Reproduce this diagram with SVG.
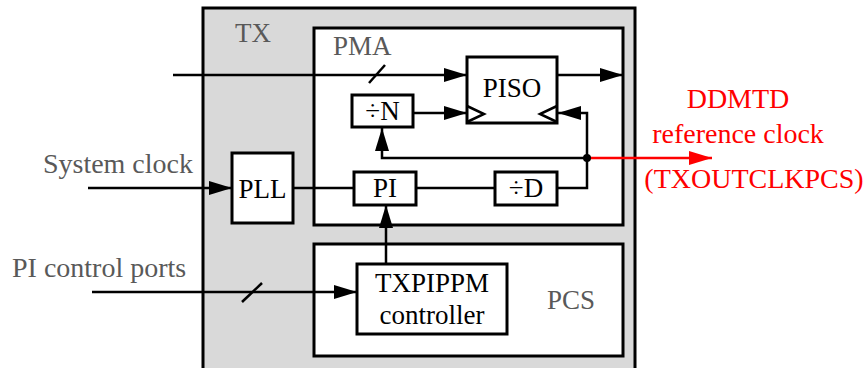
<svg xmlns="http://www.w3.org/2000/svg" width="868" height="368" viewBox="0 0 868 368">
<style>
.t{font-family:"Liberation Serif",serif;font-size:27px}
.big{font-size:28px}
.g{fill:#595959}
.k{fill:#000}
.r{fill:#ff0000}
.box{fill:#fff;stroke:#000;stroke-width:3}
.ln{fill:none;stroke:#000;stroke-width:2.5}
.red{fill:none;stroke:#ff0000;stroke-width:2.5}
</style>
<defs>
<marker id="a" markerUnits="userSpaceOnUse" markerWidth="24" markerHeight="16" refX="23" refY="7" orient="auto">
<path d="M0,0 L23,7 L0,14 Z" fill="#000"/>
</marker>
<marker id="ar" markerUnits="userSpaceOnUse" markerWidth="24" markerHeight="16" refX="23" refY="7" orient="auto">
<path d="M0,0 L23,7 L0,14 Z" fill="#ff0000"/>
</marker>
</defs>
<g id="TX">
<rect x="203" y="8" width="432" height="380" fill="#d9d9d9" stroke="#000" stroke-width="3"/>
<text class="t g" x="235" y="42">TX</text>
</g>
<g id="PMA">
<rect class="box" x="314" y="28" width="309" height="197"/>
<text class="t g" x="333" y="55">PMA</text>
</g>
<g id="PCS">
<rect class="box" x="314" y="244" width="309" height="112"/>
<text class="t g" x="571" y="309" text-anchor="middle">PCS</text>
</g>
<g id="PISO">
<rect class="box" x="467" y="57" width="90" height="66"/>
<path class="ln" d="M467,106 L484,114 L467,122 M557,106 L540,114 L557,122"/>
<text class="t k" x="512" y="97" text-anchor="middle">PISO</text>
</g>
<g id="divN">
<rect class="box" x="352" y="95" width="61" height="32"/>
<text class="t k" x="382.5" y="120" text-anchor="middle">÷N</text>
</g>
<g id="PI">
<rect class="box" x="354" y="172" width="62" height="33"/>
<text class="t k" x="385" y="197" text-anchor="middle">PI</text>
</g>
<g id="divD">
<rect class="box" x="495" y="172" width="62" height="33"/>
<text class="t k" x="526" y="197" text-anchor="middle">÷D</text>
</g>
<g id="PLL">
<rect class="box" x="232" y="153" width="61" height="70"/>
<text class="t k" x="262.5" y="198" text-anchor="middle">PLL</text>
</g>
<g id="TXPIPPM">
<rect class="box" x="357" y="264" width="150" height="70"/>
<text class="t k" x="432" y="292" text-anchor="middle">TXPIPPM</text>
<text class="t k" x="432" y="324" text-anchor="middle">controller</text>
</g>
<g id="labels">
<text class="t big g" x="193" y="173" text-anchor="end">System clock</text>
<text class="t big g" x="12" y="277">PI control ports</text>
<text class="t big r" x="738" y="108" text-anchor="middle">DDMTD</text>
<text class="t big r" x="738" y="143" text-anchor="middle">reference clock</text>
<text class="t big r" x="754" y="188" text-anchor="middle">(TXOUTCLKPCS)</text>
</g>
<g id="connectors">
<line class="ln" x1="173" y1="75" x2="467" y2="75" marker-end="url(#a)"/>
<line class="ln" x1="369" y1="83" x2="385" y2="65"/>
<line class="ln" x1="557" y1="75" x2="623" y2="75" marker-end="url(#a)"/>
<line class="ln" x1="413" y1="113" x2="467" y2="113" marker-end="url(#a)"/>
<path class="ln" d="M587,158 L587,113 L558,113" marker-end="url(#a)"/>
<path class="ln" d="M587,158 L382,158 L382,128" marker-end="url(#a)"/>
<path class="ln" d="M557,188 L587,188 L587,158"/>
<line class="ln" x1="416" y1="188" x2="495" y2="188"/>
<line class="ln" x1="293" y1="188" x2="354" y2="188"/>
<line class="ln" x1="88" y1="188" x2="232" y2="188" marker-end="url(#a)"/>
<line class="ln" x1="386" y1="264" x2="386" y2="205" marker-end="url(#a)"/>
<line class="ln" x1="92" y1="292" x2="357" y2="292" marker-end="url(#a)"/>
<line class="ln" x1="242" y1="302" x2="262" y2="283"/>
<line class="red" x1="587" y1="158" x2="712" y2="158" marker-end="url(#ar)"/>
<circle cx="587" cy="158" r="4" fill="#000"/>
</g>
</svg>
